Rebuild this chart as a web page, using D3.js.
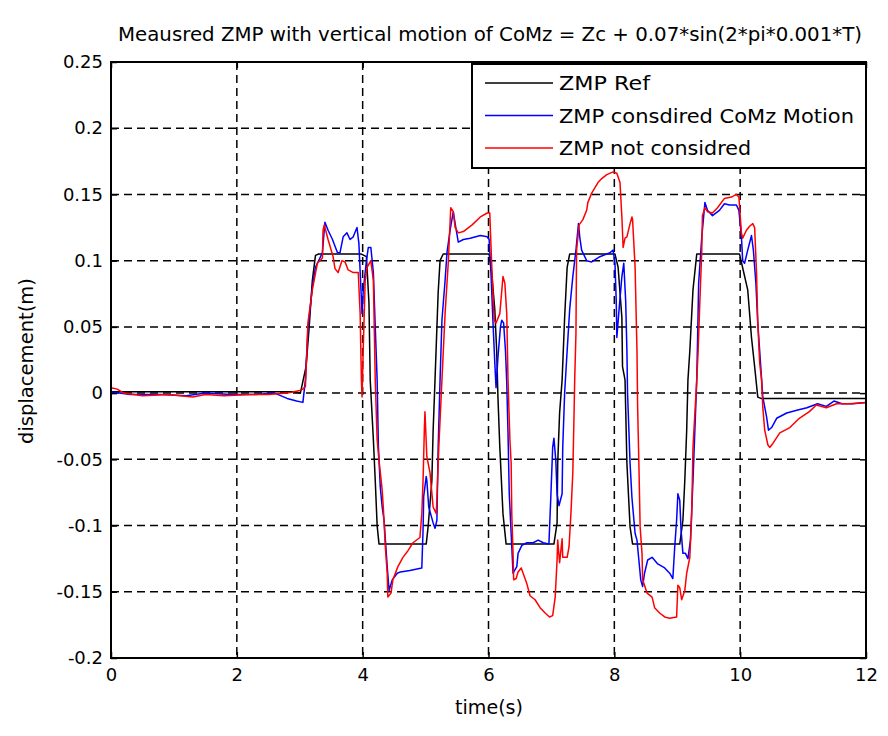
<!DOCTYPE html>
<html>
<head>
<meta charset="utf-8">
<script src="https://cdn.jsdelivr.net/npm/d3@7"></script>
<style>
body { margin: 0; background: #fff; }
text { font-family: "DejaVu Sans", "Liberation Sans", Arial, sans-serif; fill: #000; }
</style>
</head>
<body>
<svg width="888" height="736"></svg>
<script>
var svg = d3.select("svg");

// ZMP reference
var tRef = [0, 2.9, 3.01, 3.1, 3.15, 3.2, 3.25, 3.3, 3.98, 4.06, 4.10, 4.12, 4.17, 4.20, 4.23, 4.26,
    5.01, 5.04, 5.10, 5.12, 5.15, 5.20, 5.23, 5.28, 6.01, 6.05, 6.10, 6.13, 6.15, 6.18, 6.23, 6.28,
    7.04, 7.09, 7.10, 7.13, 7.17, 7.21, 7.25, 7.29, 8.01, 8.06, 8.12, 8.13, 8.17, 8.20, 8.25, 8.29,
    9.04, 9.09, 9.12, 9.15, 9.17, 9.20, 9.25, 9.31, 9.99, 10.12, 10.18, 10.23, 10.28, 10.33, 12];
var vRef = [0.001, 0.001, 0.0, 0.02, 0.05, 0.085, 0.104, 0.105, 0.105, 0.103, 0.068, 0.01, -0.035, -0.066, -0.1, -0.114,
    -0.114, -0.101, -0.066, -0.028, 0.01, 0.076, 0.1, 0.105, 0.105, 0.091, 0.063, 0.032, -0.003, -0.041, -0.091, -0.114,
    -0.114, -0.098, -0.053, -0.015, 0.01, 0.057, 0.095, 0.105, 0.105, 0.095, 0.057, 0.02, 0.01, -0.053, -0.101, -0.114,
    -0.114, -0.096, -0.066, -0.028, 0.01, 0.032, 0.078, 0.105, 0.105, 0.078, 0.042, 0.02, -0.003, -0.004, -0.004];

// ZMP with CoMz motion considered
var tZc = [0, 0.3, 0.8, 1.2, 1.5, 1.9, 2.3, 2.6, 2.8, 2.95, 3.05, 3.09, 3.13, 3.20, 3.25, 3.29, 3.36, 3.40, 3.45, 3.52,
    3.60, 3.64, 3.69, 3.75, 3.80, 3.85, 3.91, 3.94, 3.99, 4.01, 4.06, 4.09, 4.13, 4.17, 4.20, 4.23, 4.25, 4.28,
    4.31, 4.34, 4.39, 4.42, 4.47, 4.55, 4.60, 4.75, 4.94, 4.96, 4.97, 5.01, 5.02, 5.05, 5.12, 5.15, 5.18, 5.20,
    5.23, 5.26, 5.31, 5.34, 5.39, 5.44, 5.47, 5.52, 5.60, 5.71, 5.87, 5.98, 6.01, 6.04, 6.07, 6.10, 6.12, 6.15,
    6.19, 6.21, 6.24, 6.27, 6.29, 6.31, 6.33, 6.37, 6.39, 6.45, 6.47, 6.53, 6.61, 6.71, 6.79, 6.87, 6.96, 6.99,
    7.02, 7.04, 7.07, 7.09, 7.12, 7.17, 7.18, 7.21, 7.25, 7.29, 7.34, 7.39, 7.43, 7.45, 7.48, 7.56, 7.64, 7.77,
    7.93, 7.98, 8.01, 8.03, 8.04, 8.07, 8.12, 8.15, 8.18, 8.20, 8.21, 8.25, 8.28, 8.33, 8.36, 8.39, 8.42, 8.45,
    8.48, 8.53, 8.60, 8.69, 8.80, 8.88, 8.93, 8.96, 8.99, 9.01, 9.04, 9.06, 9.09, 9.13, 9.17, 9.21, 9.25, 9.28,
    9.31, 9.33, 9.34, 9.39, 9.44, 9.48, 9.56, 9.67, 9.75, 9.83, 9.94, 9.98, 10.02, 10.04, 10.07, 10.12, 10.18,
    10.21, 10.25, 10.28, 10.31, 10.36, 10.42, 10.45, 10.50, 10.58, 10.74, 10.90, 11.06, 11.23, 11.37, 11.49,
    11.62, 11.79, 12];
var vZc = [0.001, -0.001, -0.001, -0.002, 0.0, -0.001, -0.001, 0.0, -0.004, -0.006, -0.007, 0.01, 0.048, 0.080, 0.095, 0.099, 0.106, 0.129, 0.123, 0.116,
    0.106, 0.106, 0.118, 0.121, 0.116, 0.118, 0.125, 0.113, 0.060, 0.078, 0.100, 0.110, 0.110, 0.091, 0.050, 0.010, -0.040, -0.071,
    -0.086, -0.096, -0.131, -0.149, -0.141, -0.136, -0.135, -0.134, -0.132, -0.103, -0.078, -0.063, -0.066, -0.086, -0.098, -0.102, -0.096, -0.041,
    0.010, 0.055, 0.085, 0.106, 0.123, 0.137, 0.128, 0.114, 0.116, 0.117, 0.119, 0.118, 0.116, 0.090, 0.055, 0.023, 0.004, 0.027,
    0.050, 0.055, 0.053, 0.032, 0.008, -0.030, -0.076, -0.116, -0.136, -0.131, -0.121, -0.115, -0.113, -0.113, -0.111, -0.113, -0.114, -0.079,
    -0.041, -0.034, -0.051, -0.076, -0.085, -0.076, -0.041, 0.0, 0.032, 0.063, 0.088, 0.108, 0.128, 0.118, 0.108, 0.100, 0.099, 0.103,
    0.106, 0.108, 0.098, 0.070, 0.042, 0.060, 0.088, 0.098, 0.070, 0.032, 0.0, -0.053, -0.079, -0.106, -0.111, -0.126, -0.141, -0.146,
    -0.136, -0.126, -0.124, -0.129, -0.132, -0.136, -0.140, -0.116, -0.096, -0.076, -0.081, -0.103, -0.121, -0.121, -0.125, -0.111, -0.066, -0.028,
    0.010, 0.057, 0.083, 0.118, 0.144, 0.138, 0.134, 0.138, 0.143, 0.142, 0.142, 0.138, 0.118, 0.100, 0.098, 0.108, 0.119,
    0.108, 0.083, 0.053, 0.032, -0.003, -0.018, -0.028, -0.026, -0.019, -0.015, -0.013, -0.011, -0.008, -0.010, -0.006,
    -0.008, -0.008, -0.007];

// ZMP with CoMz motion not considered
var tNc = [0, 0.1, 0.2, 0.5, 0.9, 1.3, 1.5, 1.8, 2.2, 2.5, 2.8, 3.0, 3.05, 3.09, 3.13, 3.20, 3.28, 3.36, 3.37, 3.39,
    3.45, 3.53, 3.56, 3.61, 3.67, 3.72, 3.77, 3.85, 3.93, 3.96, 3.98, 3.99, 4.01, 4.04, 4.07, 4.13, 4.17, 4.20,
    4.23, 4.26, 4.31, 4.33, 4.36, 4.39, 4.40, 4.45, 4.48, 4.56, 4.64, 4.72, 4.80, 4.91, 4.94, 4.96, 4.98, 4.99,
    5.02, 5.07, 5.12, 5.17, 5.18, 5.21, 5.26, 5.31, 5.36, 5.40, 5.44, 5.47, 5.52, 5.60, 5.74, 5.87, 5.98, 6.02,
    6.05, 6.09, 6.12, 6.18, 6.23, 6.26, 6.29, 6.31, 6.34, 6.36, 6.37, 6.39, 6.40, 6.44, 6.47, 6.52, 6.55, 6.61,
    6.66, 6.74, 6.82, 6.90, 6.97, 7.02, 7.06, 7.09, 7.10, 7.13, 7.17, 7.18, 7.25, 7.28, 7.31, 7.34, 7.36, 7.37,
    7.39, 7.40, 7.44, 7.50, 7.56, 7.58, 7.64, 7.69, 7.74, 7.80, 7.88, 7.98, 8.04, 8.09, 8.12, 8.14, 8.17, 8.20,
    8.25, 8.28, 8.29, 8.33, 8.36, 8.37, 8.39, 8.41, 8.44, 8.45, 8.52, 8.60, 8.64, 8.72, 8.80, 8.88, 8.99, 9.01,
    9.04, 9.07, 9.12, 9.15, 9.20, 9.23, 9.25, 9.31, 9.33, 9.36, 9.39, 9.40, 9.44, 9.48, 9.56, 9.64, 9.75, 9.86,
    9.94, 9.98, 10.02, 10.04, 10.10, 10.15, 10.20, 10.23, 10.26, 10.28, 10.31, 10.34, 10.36, 10.39, 10.44, 10.47,
    10.52, 10.63, 10.79, 10.94, 11.10, 11.21, 11.37, 11.53, 11.74, 12];
var vNc = [0.004, 0.003, 0.0, -0.002, -0.001, -0.003, -0.001, -0.002, -0.001, -0.001, 0.0, 0.002, 0.003, 0.005, 0.053, 0.078, 0.098, 0.102, 0.123, 0.127,
    0.116, 0.103, 0.094, 0.091, 0.100, 0.099, 0.093, 0.091, 0.091, 0.060, 0.010, -0.003, 0.035, 0.085, 0.095, 0.100, 0.085, 0.010,
    -0.035, -0.051, -0.073, -0.088, -0.116, -0.136, -0.154, -0.151, -0.141, -0.131, -0.124, -0.119, -0.113, -0.109, -0.091, -0.066, -0.028, -0.014,
    -0.048, -0.060, -0.086, -0.091, -0.079, -0.041, 0.010, 0.060, 0.098, 0.140, 0.137, 0.125, 0.121, 0.122, 0.127, 0.133, 0.136, 0.136,
    0.098, 0.055, 0.053, 0.060, 0.088, 0.083, 0.060, 0.010, -0.035, -0.053, -0.091, -0.121, -0.141, -0.140, -0.135, -0.132, -0.136, -0.144,
    -0.153, -0.156, -0.162, -0.166, -0.169, -0.168, -0.154, -0.126, -0.111, -0.128, -0.110, -0.124, -0.124, -0.116, -0.091, -0.060, -0.015, 0.010,
    0.045, 0.108, 0.127, 0.131, 0.138, 0.144, 0.151, 0.155, 0.159, 0.162, 0.165, 0.167, 0.166, 0.159, 0.133, 0.110, 0.117, 0.118,
    0.128, 0.133, 0.131, 0.095, 0.032, -0.010, -0.053, -0.101, -0.121, -0.141, -0.151, -0.154, -0.162, -0.166, -0.169, -0.170, -0.169, -0.145,
    -0.147, -0.156, -0.149, -0.136, -0.124, -0.091, -0.041, 0.010, 0.030, 0.070, 0.108, 0.134, 0.140, 0.137, 0.136, 0.140, 0.147, 0.148,
    0.150, 0.148, 0.121, 0.117, 0.123, 0.126, 0.128, 0.125, 0.091, 0.053, 0.023, 0.010, -0.011, -0.028, -0.039, -0.041,
    -0.038, -0.030, -0.026, -0.019, -0.014, -0.009, -0.011, -0.008, -0.008, -0.007];

var xTicks = [0, 2, 4, 6, 8, 10, 12];
var yTicks = [-0.2, -0.15, -0.1, -0.05, 0, 0.05, 0.1, 0.15, 0.2, 0.25];
var seriesNames = ["ZMP Ref", "ZMP consdired CoMz Motion", "ZMP not considred"];
var seriesColors = ["#000000", "#0000ff", "#ff0000"];

var pLeft = 111, pRight = 866, pTop = 62, pBottom = 658;

var x = d3.scaleLinear().domain([0, 12]).range([pLeft, pRight]);
var y = d3.scaleLinear().domain([-0.2, 0.25]).range([pBottom, pTop]);

// grid
svg.append("g").selectAll("line").data(xTicks.slice(1, -1)).enter()
    .append("line")
    .attr("x1", function (d) { return x(d); })
    .attr("x2", function (d) { return x(d); })
    .attr("y1", pTop).attr("y2", pBottom)
    .attr("stroke", "#000").attr("stroke-width", 1.5).attr("stroke-dasharray", "8,5");
svg.append("g").selectAll("line").data(yTicks.slice(1, -1)).enter()
    .append("line")
    .attr("y1", function (d) { return y(d); })
    .attr("y2", function (d) { return y(d); })
    .attr("x1", pLeft).attr("x2", pRight)
    .attr("stroke", "#000").attr("stroke-width", 1.5).attr("stroke-dasharray", "8,5");

// lines
var line = d3.line()
    .x(function (d) { return x(d[0]); })
    .y(function (d) { return y(d[1]); });

var series = [d3.zip(tRef, vRef), d3.zip(tZc, vZc), d3.zip(tNc, vNc)];
svg.append("g").selectAll("path").data(series).enter()
    .append("path")
    .attr("d", line)
    .attr("fill", "none")
    .attr("stroke", function (d, i) { return seriesColors[i]; })
    .attr("stroke-width", 1.5)
    .attr("stroke-linejoin", "round");

// axes, ticks inward on all four sides
var fmt = function (d) { return String(+d.toFixed(2)); };
svg.append("g").attr("transform", "translate(" + pLeft + ",0)")
    .call(d3.axisLeft(y).tickValues(yTicks).tickSize(-6).tickPadding(8).tickFormat(fmt));
svg.append("g").attr("transform", "translate(0," + pBottom + ")")
    .call(d3.axisBottom(x).tickValues(xTicks).tickSize(-6).tickPadding(10).tickFormat(fmt));
svg.append("g").attr("transform", "translate(" + pRight + ",0)")
    .call(d3.axisRight(y).tickValues(yTicks).tickSize(-6).tickFormat(""));
svg.append("g").attr("transform", "translate(0," + pTop + ")")
    .call(d3.axisTop(x).tickValues(xTicks).tickSize(-6).tickFormat(""));
svg.selectAll(".domain").remove();
svg.selectAll(".tick line").attr("stroke", "#000").attr("stroke-width", 1.5);
svg.selectAll(".tick text").attr("font-size", 18).attr("font-family", "DejaVu Sans, sans-serif");

svg.append("rect")
    .attr("x", pLeft).attr("y", pTop)
    .attr("width", pRight - pLeft).attr("height", pBottom - pTop)
    .attr("fill", "none").attr("stroke", "#000").attr("stroke-width", 2);

// legend
var legendText = [91, 295, 192];
var lg = svg.append("g");
lg.append("rect")
    .attr("x", 472).attr("y", 64).attr("width", 394).attr("height", 104)
    .attr("fill", "#fff").attr("stroke", "#000").attr("stroke-width", 2);
seriesNames.forEach(function (name, i) {
    var yy = 83 + i * 32.5;
    lg.append("line")
        .attr("x1", 485).attr("x2", 553).attr("y1", yy).attr("y2", yy)
        .attr("stroke", seriesColors[i]).attr("stroke-width", 1.5);
    lg.append("text")
        .text(name)
        .attr("x", 559).attr("y", yy + 7)
        .attr("font-size", 19)
        .attr("textLength", legendText[i])
        .attr("lengthAdjust", "spacingAndGlyphs");
});

// title and labels
svg.append("text")
    .text("Meausred ZMP with vertical motion of CoMz = Zc + 0.07*sin(2*pi*0.001*T)")
    .attr("x", 118).attr("y", 41)
    .attr("font-size", 20)
    .attr("font-family", "Liberation Sans, Arial, sans-serif")
    .attr("textLength", 744)
    .attr("lengthAdjust", "spacingAndGlyphs");

svg.append("text")
    .text("time(s)")
    .attr("style", "text-anchor: middle")
    .attr("x", 489).attr("y", 714)
    .attr("font-size", 19)
    .attr("textLength", 68)
    .attr("lengthAdjust", "spacingAndGlyphs");

svg.append("text")
    .text("displacement(m)")
    .attr("style", "text-anchor: middle")
    .attr("transform", "translate(33,361) rotate(-90)")
    .attr("font-size", 19)
    .attr("textLength", 166)
    .attr("lengthAdjust", "spacingAndGlyphs");
</script>
</body>
</html>
